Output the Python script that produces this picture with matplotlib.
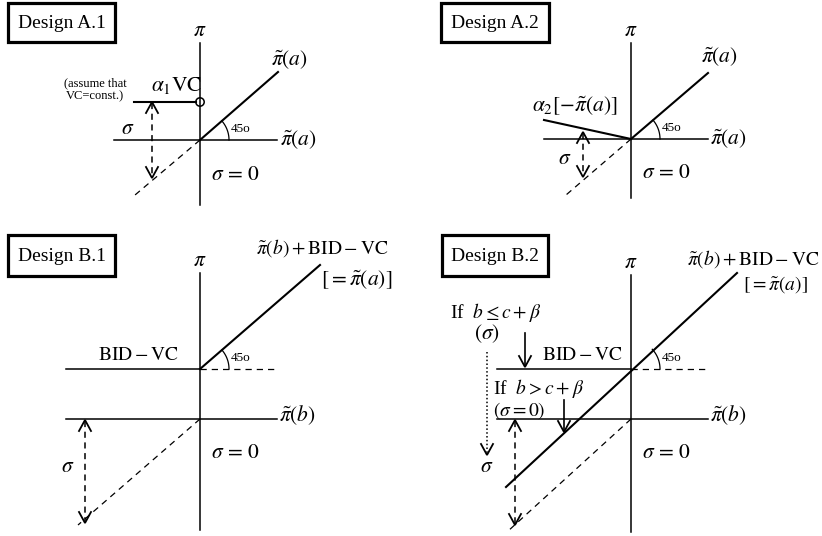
import numpy as np
import matplotlib.pyplot as plt
from matplotlib.patches import Rectangle, Circle

plt.rcParams['font.family'] = ['Liberation Serif', 'DejaVu Serif']
plt.rcParams['mathtext.fontset'] = 'stix'

# panel titles and their frames (pixel space of the 822x536 picture)
titles = ['Design A.1', 'Design A.2', 'Design B.1', 'Design B.2']
box_x = [(8, 115), (441, 549), (8, 115), (442, 548)]
box_y = [(3, 42), (3, 42), (235, 276), (235, 276)]

# axes of every panel: origin, vertical extent, horizontal extent
origin = [(200, 140), (631, 139), (200, 419), (631, 419)]
vert_y = [(43, 205), (43, 198), (273, 530), (275, 532)]
horiz_x = [(114, 277), (544, 708), (66, 277), (497, 708)]

# 45 degree payoff lines (solid) and their dashed extension
diag_solid = [((200, 140), (278, 72)), ((631, 139), (708, 73)),
              ((200, 369), (320, 265)), ((506, 487), (737, 273))]
diag_dash = [((200, 140), (135, 195)), ((631, 139), (566, 195)),
             ((200, 419), (78, 525)), ((631, 419), (507, 532))]
arc_center = [(200, 140), (631, 139), (200, 369), (631, 369)]
arc_angle = [41, 40.6, 40.9, 42.8]

# sigma double arrows (x, top, bottom)
sig_arrow = [(152, 102, 178), (583, 132, 177), (85, 420, 523), (515, 420, 525)]

fig = plt.figure(figsize=(8.22, 5.36), dpi=100)
ax = fig.add_axes([0, 0, 1, 1])
ax.set_xlim(0, 822)
ax.set_ylim(536, 0)
ax.axis('off')

LW_AX = 1.1
LW_D = 1.5
FS = 14
FM = 15.5


def head(x, y, d, lw=1.3):
    # open V arrowhead, d=1 points down, d=-1 points up
    ax.plot([x - 6, x, x + 6], [y - 11 * d, y, y - 11 * d], color='k', lw=lw,
            solid_joinstyle='miter')


for i in range(4):
    (x0, x1), (y0, y1) = box_x[i], box_y[i]
    ax.add_patch(Rectangle((x0, y0), x1 - x0, y1 - y0, fill=False, lw=2.3, ec='k'))
    ax.text((x0 + x1) / 2, (y0 + y1) / 2 + 1, titles[i], fontsize=FS, ha='center', va='center')

    ox, oy = origin[i]
    ax.plot([ox, ox], vert_y[i], color='k', lw=LW_AX)
    ax.plot(horiz_x[i], [oy, oy], color='k', lw=LW_AX)
    ax.text(ox, vert_y[i][0] - 11, r'$\pi$', fontsize=FM, ha='center', va='center')

    (a, b), (c, d) = diag_solid[i]
    ax.plot([a, c], [b, d], color='k', lw=LW_D)
    (a, b), (c, d) = diag_dash[i]
    ax.plot([a, c], [b, d], color='k', lw=0.9, ls=(0, (5, 4)))

    cx, cy = arc_center[i]
    t = np.radians(np.linspace(0, arc_angle[i], 30))
    ax.plot(cx + 29 * np.cos(t), cy - 29 * np.sin(t), color='k', lw=0.9)
    ax.text(cx + 31, cy - 11, '45o', fontsize=9.5, ha='left', va='center')

    sx, st, sb = sig_arrow[i]
    ax.plot([sx, sx], [st + 1, sb - 1], color='k', lw=1.1, ls=(0, (4, 3)))
    head(sx, st, -1)
    head(sx, sb, 1)

    ax.text(ox + 36, oy + (35 if i < 2 else 34), r'$\sigma\,=\,0$', fontsize=FM,
            ha='center', va='center')

# --- Design A.1 ---
ax.plot([134, 196], [102, 102], color='k', lw=LW_D)
ax.add_patch(Circle((200, 102), 4.2, fill=False, ec='k', lw=1.1))
ax.text(177, 86, r'$\alpha_1\mathrm{VC}$', fontsize=FM, ha='center', va='center')
ax.text(95, 90, '(assume that\nVC=const.)', fontsize=9, ha='center', va='center',
        linespacing=1.1)
ax.text(128, 129, r'$\sigma$', fontsize=FM, ha='center', va='center')
ax.text(289, 60, r'$\tilde{\pi}(a)$', fontsize=FM, ha='center', va='center')
ax.text(280, 140, r'$\tilde{\pi}(a)$', fontsize=FM, ha='left', va='center')

# --- Design A.2 ---
ax.plot([544, 631], [120, 139], color='k', lw=LW_D)
ax.text(575, 106, r'$\alpha_2[-\tilde{\pi}(a)]$', fontsize=FM, ha='center', va='center')
ax.text(565, 160, r'$\sigma$', fontsize=FM, ha='center', va='center')
ax.text(719, 57, r'$\tilde{\pi}(a)$', fontsize=FM, ha='center', va='center')
ax.text(710, 139, r'$\tilde{\pi}(a)$', fontsize=FM, ha='left', va='center')

# --- Design B.1 ---
ax.plot([66, 200], [369, 369], color='k', lw=LW_AX)
ax.plot([200, 278], [369, 369], color='k', lw=0.9, ls=(0, (5, 4)))
ax.text(138, 355, r'$\mathrm{BID}-\mathrm{VC}$', fontsize=FS, ha='center', va='center')
ax.text(68, 467, r'$\sigma$', fontsize=FM, ha='center', va='center')
ax.text(322, 248, r'$\tilde{\pi}(b)+\mathrm{BID}-\mathrm{VC}$', fontsize=FS,
        ha='center', va='center')
ax.text(357, 280, r'$[=\tilde{\pi}(a)]$', fontsize=FM, ha='center', va='center')
ax.text(279, 415, r'$\tilde{\pi}(b)$', fontsize=FM, ha='left', va='center')

# --- Design B.2 ---
ax.plot([497, 631], [369, 369], color='k', lw=LW_AX)
ax.plot([631, 708], [369, 369], color='k', lw=0.9, ls=(0, (5, 4)))
ax.text(582, 355, r'$\mathrm{BID}-\mathrm{VC}$', fontsize=FS, ha='center', va='center')
ax.text(753, 259, r'$\tilde{\pi}(b)+\mathrm{BID}-\mathrm{VC}$', fontsize=FS,
        ha='center', va='center')
ax.text(775, 285, r'$[=\tilde{\pi}(a)]$', fontsize=FS, ha='center', va='center')
ax.text(710, 415, r'$\tilde{\pi}(b)$', fontsize=FM, ha='left', va='center')

ax.text(450, 312, r'If  $b\leq c+\beta$', fontsize=FS, ha='left', va='center')
ax.text(487, 334, r'$(\sigma)$', fontsize=FM, ha='center', va='center')
ax.plot([525, 525], [333, 366], color='k', lw=1.2)
head(525, 367, 1)

ax.text(493, 389, r'If  $b>c+\beta$', fontsize=FS, ha='left', va='center')
ax.text(493, 411, r'$(\sigma=0)$', fontsize=FS, ha='left', va='center')
ax.plot([564, 564], [400, 431], color='k', lw=1.2)
head(564, 432, 1)

ax.plot([487, 487], [352, 453], color='k', lw=1.1, ls=(0, (1, 1.5)))
head(487, 455, 1)
ax.text(487, 467, r'$\sigma$', fontsize=FM, ha='center', va='center')

fig.savefig('out.png', dpi=100)
